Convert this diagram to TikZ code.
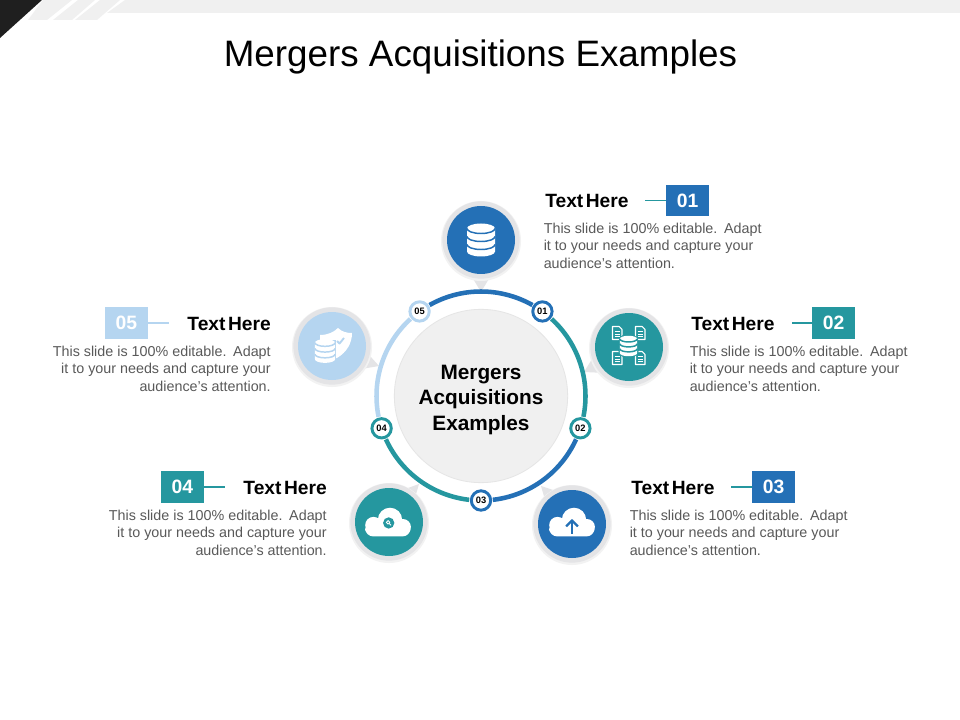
\documentclass[tikz,border=0pt]{standalone}
\usepackage{fontspec}
\setmainfont{Liberation Sans}
\usetikzlibrary{calc}
\definecolor{cblue}{HTML}{2470B6}
\definecolor{cteal}{HTML}{25979F}
\definecolor{clight}{HTML}{B5D5F0}
\definecolor{chalo}{HTML}{E4E4E6}
\definecolor{cband}{HTML}{F0F0F0}
\definecolor{ctext}{HTML}{595959}
\tikzset{
  bigdot/.style={circle,minimum size=51pt,inner sep=0pt,fill=#1},
  halo/.style={circle,minimum size=58pt,inner sep=0pt,fill=chalo},
  softhalo/.style={circle,minimum size=60pt,inner sep=0pt,fill=black!5},
  tiny/.style={circle,draw=#1,line width=2.2pt,fill=white,minimum size=14.5pt,inner sep=0pt,font=\fontsize{7}{7}\selectfont\bfseries},
  ringarc/.style={line width=3.4pt,draw=#1},
  numbox/.style={fill=#1,text=white,minimum width=32.25pt,minimum height=23.5pt,inner sep=0pt,font=\fontsize{14.5}{14.5}\selectfont\bfseries},
  heading/.style={inner sep=0pt,font=\fontsize{14.4}{16}\selectfont\bfseries},
  body/.style={inner sep=0pt,text=ctext,font=\fontsize{10.75}{13.1}\selectfont},
  tick/.style={line width=1.3pt,draw=#1},
  pointer/.style={fill=chalo}
}
\newcommand{\hd}{Text\hspace{0.13em}Here}
\newcommand{\bl}{This slide is 100\% editable.\hspace{0.1em} Adapt\\it to your needs and capture your\\audience's attention.}
% database stack: scale, gap colour
\newcommand{\dbstack}[2]{%
  \begin{scope}[scale=#1]
    \fill[white] (-14,-11.5) -- (-14,11.5) arc[start angle=180,end angle=0,x radius=14,y radius=5] -- (14,-11.5) arc[start angle=0,end angle=-180,x radius=14,y radius=5] -- cycle;
    \foreach \yy in {-11.5,-3.5,4.5} {
      \draw[#2,line width=1.1pt] (14,\yy) arc[start angle=0,end angle=180,x radius=14,y radius=5];
    }
  \end{scope}}
% cloud
\newcommand{\cloudshape}{%
  \fill[white] (-19,-1) circle[radius=9.5];
  \fill[white] (0,-7) circle[radius=14];
  \fill[white] (15,1) circle[radius=9];
  \fill[white,rounded corners=6pt] (-28.5,-4) rectangle (23.5,12);
}
% document glyph
\newcommand{\docglyph}{%
  \draw[white,line width=0.8pt,line join=round] (-4.5,-6.5) -- (2,-6.5) -- (5,-3.5) -- (5,6.5) -- (-4.5,6.5) -- cycle;
  \draw[white,line width=0.6pt] (-2.3,-1.5) -- (2.8,-1.5) (-2.3,1) -- (2.8,1) (-2.3,3.5) -- (2.8,3.5);
}
\begin{document}
\begin{tikzpicture}[x=0.75pt,y=-0.75pt]
\useasboundingbox (0,0) rectangle (960,720);
\fill[white] (0,0) rectangle (960,720);
% header band
\fill[cband] (125,0) -- (960,0) -- (960,13) -- (107,13) -- cycle;
\fill[cband] (43,0) -- (72,0) -- (47,20) -- (28,20) -- cycle;
\fill[cband] (78,0) -- (95,0) -- (72,20) -- (53,20) -- cycle;
\fill[cband] (100,0) -- (120,0) -- (97,20) -- (75,20) -- cycle;
\fill[black!88] (0,0) -- (42,0) -- (0,38) -- cycle;
\node[inner sep=0pt,font=\fontsize{27.6}{32}\selectfont] (title) at (480.5,57) {Mergers Acquisitions Examples};

% centre
\coordinate (c) at (481,396);
\node[circle,minimum size=130pt,inner sep=0pt,fill=cband,draw=black!10,line width=0.6pt] (core) at (c) {};
\node[inner sep=0pt,align=center,font=\fontsize{15.6}{19.1}\selectfont\bfseries] (coretext) at (481,400) {Mergers\\Acquisitions\\Examples};

% pointers
\fill[pointer] (469,272) -- (493,272) -- (481,292) -- cycle;
\fill[pointer] (597,351) -- (606,373) -- (584,372) -- cycle;
\fill[pointer] (541,486) -- (565,494) -- (548,510) -- cycle;
\fill[pointer] (419,484) -- (397,492) -- (412,508) -- cycle;
\fill[pointer] (361,346) -- (355,370) -- (379,366) -- cycle;

% big circles
\node[softhalo] (s1) at (481,241) {};
\node[softhalo] (s2) at (629,348) {};
\node[softhalo] (s3) at (572,525) {};
\node[softhalo] (s4) at (389,523) {};
\node[softhalo] (s5) at (332,347) {};
\node[halo] (h1) at (481,240) {};
\node[halo] (h2) at (629,347) {};
\node[halo] (h3) at (572,524) {};
\node[halo] (h4) at (389,522) {};
\node[halo] (h5) at (332,346) {};
\node[bigdot=cblue] (b1) at (481,240) {};
\node[bigdot=cteal] (b2) at (629,347) {};
\node[bigdot=cblue] (b3) at (572,524) {};
\node[bigdot=cteal] (b4) at (389,522) {};
\node[bigdot=clight] (b5) at (332,346) {};

% icon 1
\begin{scope}[shift={(481,240)}]\dbstack{1}{cblue}\end{scope}
% icon 2
\begin{scope}[shift={(628.5,346)}]
  \begin{scope}[shift={(-11.5,-13)}]\docglyph\end{scope}
  \begin{scope}[shift={(11.5,-13)}]\docglyph\end{scope}
  \begin{scope}[shift={(-11.5,12)}]\docglyph\end{scope}
  \begin{scope}[shift={(11.5,12)}]\docglyph\end{scope}
  \fill[cteal] (0,0) ellipse (11 and 13);
  \dbstack{0.62}{cteal}
\end{scope}
% icon 3
\begin{scope}[shift={(574,526)},scale=0.87]
  \cloudshape
  \draw[cblue,line width=1.7pt] (-2.3,9) -- (-2.3,-6);
  \draw[cblue,line width=1.7pt,line join=round] (-9,0.5) -- (-2.3,-6.5) -- (4.4,0.5);
\end{scope}
% icon 4
\begin{scope}[shift={(390,526)},scale=0.87]
  \cloudshape
  \fill[cteal] (-1.5,-3.5) circle[radius=6.5];
  \draw[white,line width=0.6pt] (-2.2,-4.2) circle[radius=2] (-0.9,-2.9) -- (1.2,-0.8);
\end{scope}
% icon 5
\begin{scope}[shift={(332,346)}]
  \fill[white] (-12,-11) .. controls (-4,-11) and (2,-14) .. (6,-18) .. controls (10,-14) and (15,-13) .. (20,-13) .. controls (20,-3) and (15,6) .. (5,12) -- (-12,12) -- cycle;
  \draw[clight,line width=1.4pt,line join=round] (5,-5) -- (7.5,-2.5) -- (12,-8);
  \begin{scope}[shift={(-7,5)}]
    \fill[clight] (-12,-11) rectangle (11,14);
    \dbstack{0.72}{clight}
  \end{scope}
\end{scope}

% small nodes
\node[tiny=cblue] (n1) at ($(c)+(-54:104.5)$) {01};
\node[tiny=cteal] (n2) at ($(c)+(18:104.5)$) {02};
\node[tiny=cblue] (n3) at ($(c)+(90:104.5)$) {03};
\node[tiny=cteal] (n4) at ($(c)+(162:104.5)$) {04};
\node[tiny=clight] (n5) at ($(c)+(234:104.5)$) {05};

% ring arcs
\draw[ringarc=cteal] ($(c)+(-47.5:104.5)$) arc[start angle=-47.5,end angle=11.5,radius=104.5];
\draw[ringarc=cblue] ($(c)+(24.5:104.5)$) arc[start angle=24.5,end angle=83.5,radius=104.5];
\draw[ringarc=cteal] ($(c)+(96.5:104.5)$) arc[start angle=96.5,end angle=155.5,radius=104.5];
\draw[ringarc=clight] ($(c)+(168.5:104.5)$) arc[start angle=168.5,end angle=227.5,radius=104.5];
\draw[ringarc=cblue] ($(c)+(240.5:104.5)$) arc[start angle=240.5,end angle=299.5,radius=104.5];

% text block 1
\node[heading,anchor=west] (t1) at (545,200.5) {\hd};
\node[numbox=cblue] (x1) at (687.5,200.5) {01};
\coordinate (l1) at (645,200.5);
\draw[tick=cteal] (l1) -- (x1.west);
\node[body,anchor=west,align=left] (d1) at (543.5,245.5) {\bl};
% text block 2
\node[heading,anchor=west] (t2) at (691,323.5) {\hd};
\node[numbox=cteal] (x2) at (833.5,323) {02};
\coordinate (l2) at (792,323);
\draw[tick=cteal] (l2) -- (x2.west);
\node[body,anchor=west,align=left] (d2) at (689.5,368.5) {\bl};
% text block 3
\node[heading,anchor=west] (t3) at (631,487.5) {\hd};
\node[numbox=cblue] (x3) at (773.5,487) {03};
\coordinate (l3) at (731,487);
\draw[tick=cteal] (l3) -- (x3.west);
\node[body,anchor=west,align=left] (d3) at (629.5,532.5) {\bl};
% text block 4
\node[heading,anchor=east] (t4) at (327,487.5) {\hd};
\node[numbox=cteal] (x4) at (182.5,487) {04};
\coordinate (l4) at (225,487);
\draw[tick=cteal] (x4.east) -- (l4);
\node[body,anchor=east,align=right] (d4) at (327,532.5) {\bl};
% text block 5
\node[heading,anchor=east] (t5) at (271,323.5) {\hd};
\node[numbox=clight] (x5) at (126.5,323) {05};
\coordinate (l5) at (169,323);
\draw[tick=clight] (x5.east) -- (l5);
\node[body,anchor=east,align=right] (d5) at (271,368.5) {\bl};
\end{tikzpicture}
\end{document}
